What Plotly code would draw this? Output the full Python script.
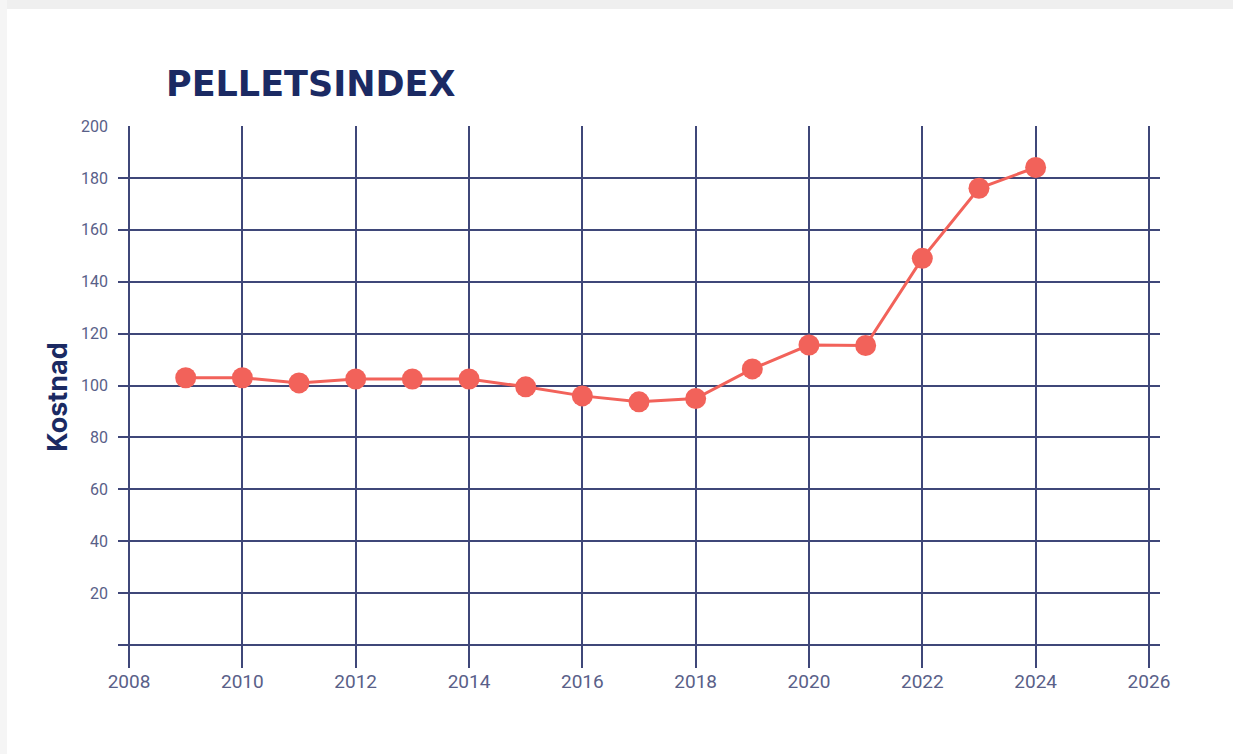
import plotly.graph_objects as go

years = [2009, 2010, 2011, 2012, 2013, 2014, 2015, 2016, 2017, 2018, 2019, 2020, 2021, 2022, 2023, 2024]
kostnad = [103, 103, 101, 102.5, 102.5, 102.5, 99.5, 96, 93.7, 95, 106.4, 115.6, 115.4, 149, 176, 184]
x_ticks = [2008, 2010, 2012, 2014, 2016, 2018, 2020, 2022, 2024, 2026]
y_ticks = [0, 20, 40, 60, 80, 100, 120, 140, 160, 180, 200]
y_labels = ["", "20", "40", "60", "80", "100", "120", "140", "160", "180", "200"]

W, H = 1233, 754
L, R, T, B = 118, 73, 126, 86
pw, ph = W - L - R, H - T - B

def px(x):
    return (x - L) / pw

def py(y):
    return (H - B - y) / ph

navy = "#1b2a63"
grid = "#3f4779"
tickc = "#596088"
red = "#f2625a"

fig = go.Figure()
fig.add_trace(go.Scatter(
    x=years, y=kostnad, mode="lines+markers",
    line=dict(color=red, width=3),
    marker=dict(color=red, size=21),
    cliponaxis=False, showlegend=False,
))

fig.update_layout(
    width=W, height=H,
    margin=dict(l=L, r=R, t=T, b=B),
    paper_bgcolor="white", plot_bgcolor="white",
    font=dict(family="Roboto, DejaVu Sans, sans-serif"),
    xaxis=dict(range=[2007.805, 2026.195], tickvals=x_ticks, showgrid=True,
               gridcolor=grid, gridwidth=1.5, zeroline=False, showline=False,
               ticks="", tickfont=dict(size=19, color=tickc),
               ticklabelstandoff=0),
    yaxis=dict(range=[-8.86, 200], tickvals=y_ticks, ticktext=y_labels, showgrid=True,
               gridcolor=grid, gridwidth=1.5, zeroline=False, showline=False,
               ticks="", tickfont=dict(size=16, color=tickc),
               ticklabelstandoff=9,
               title=dict(text="<b>Kostnad</b>", font=dict(family="Inter, DejaVu Sans, sans-serif", size=27, color=navy), standoff=5)),
    shapes=[
        dict(type="rect", xref="paper", yref="paper", x0=px(0), x1=px(W), y0=py(9), y1=py(0),
             fillcolor="#efefef", line=dict(width=0), layer="below"),
        dict(type="rect", xref="paper", yref="paper", x0=px(0), x1=px(7), y0=py(H), y1=py(0),
             fillcolor="#f5f5f5", line=dict(width=0), layer="below"),
    ],
    annotations=[
        dict(text="<b>PELLETSINDEX</b>", xref="paper", yref="paper", x=px(164), y=py(84),
             xanchor="left", yanchor="middle", showarrow=False,
             font=dict(family="DejaVu Sans", size=35, color=navy)),
    ],
)

fig.write_html("out.html")
